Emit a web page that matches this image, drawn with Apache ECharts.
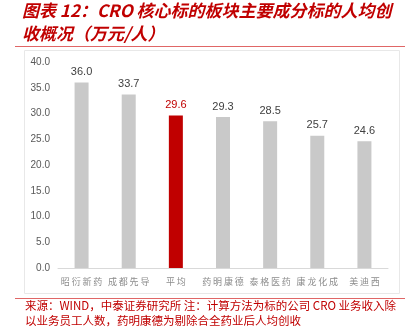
<!DOCTYPE html>
<html><head><meta charset="utf-8">
<style>html,body{margin:0;padding:0;background:#fff;}#c{width:405px;height:327px;}</style>
<script src="https://cdn.jsdelivr.net/npm/echarts@6/dist/echarts.min.js"></script>
</head><body><div id="c"></div>
<script>
const categories = ['昭衍新药','成都先导','平均','药明康德','泰格医药','康龙化成','美迪西'];
const values = [36.0, 33.7, 29.6, 29.3, 28.5, 25.7, 24.6];
const highlightName = '平均';
const yTicks = {min: 0, max: 40, interval: 5};

const chart = echarts.init(document.getElementById('c'), null, {renderer: 'canvas'});
const red = '#C00000';
const gray = '#C9C9C9';
const cjk = '"Noto Sans CJK SC", sans-serif';
chart.setOption({
  animation: false,
  grid: {left: 58, right: 17, top: 62, bottom: 59},
  xAxis: {
    type: 'category', data: categories,
    axisLine: {lineStyle: {color: '#D9D9D9'}},
    axisTick: {show: false},
    axisLabel: {color: '#8C8C8C', fontSize: 9, fontFamily: cjk, margin: 9, interval: 0,
      formatter: v => v.split('').join('\u2009')}
  },
  yAxis: {
    type: 'value', min: yTicks.min, max: yTicks.max, interval: yTicks.interval,
    splitLine: {show: false}, axisLine: {show: false}, axisTick: {show: false},
    axisLabel: {color: '#595959', fontSize: 10, fontFamily: 'Liberation Sans, Arial', margin: 8,
      formatter: v => v.toFixed(1)}
  },
  series: [{
    type: 'bar', barWidth: 14,
    data: categories.map((c, i) => ({
      value: values[i],
      itemStyle: {color: c === highlightName ? red : gray},
      label: {color: c === highlightName ? red : '#404040'}
    })),
    label: {show: true, position: 'top', distance: 5, fontSize: 11,
      fontFamily: 'Liberation Sans, Arial', formatter: p => p.value.toFixed(1)}
  }],
  graphic: [
    {type: 'text', left: 22, top: 2, style: {text: '图表 12：CRO 核心标的板块主要成分标的人均创',
      fill: red, font: 'italic bold 17px "Noto Sans CJK SC", sans-serif'}},
    {type: 'text', left: 22, top: 25, style: {text: '收概况（万元/人）',
      fill: red, font: 'italic bold 17px "Noto Sans CJK SC", sans-serif'}},
    {type: 'rect', shape: {x: 15, y: 46, width: 390, height: 1}, style: {fill: '#E06666'}},
    {type: 'rect', shape: {x: 24.5, y: 50.5, width: 375, height: 243}, style: {fill: 'none', stroke: '#E8E8E8', lineWidth: 1}},
    {type: 'rect', shape: {x: 15, y: 298, width: 390, height: 1}, style: {fill: '#E06666'}},
    {type: 'text', left: 25, top: 300, style: {text: '来源：WIND，中泰证券研究所 注：计算方法为标的公司 CRO 业务收入除',
      fill: red, font: '11.5px "Noto Sans CJK SC", sans-serif'}},
    {type: 'text', left: 25, top: 315, style: {text: '以业务员工人数，药明康德为剔除合全药业后人均创收',
      fill: red, font: '11.5px "Noto Sans CJK SC", sans-serif'}}
  ]
});
</script></body></html>
